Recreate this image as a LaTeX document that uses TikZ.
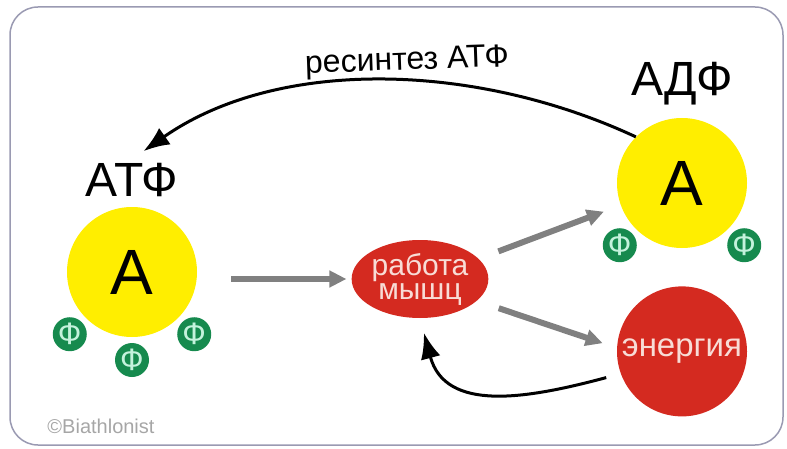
\documentclass[tikz,border=0pt]{standalone}
\usepackage{fontspec}
\setmainfont{Liberation Sans}
\usetikzlibrary{arrows.meta,positioning,shapes.geometric}

\definecolor{molyellow}{HTML}{FFEE00}
\definecolor{workred}{HTML}{D42A20}
\definecolor{worktext}{HTML}{F8DCD6}
\definecolor{phgreen}{HTML}{168A4E}
\definecolor{phmint}{HTML}{C4F2DC}
\definecolor{framegray}{HTML}{9A9AB2}
\definecolor{arrowgray}{HTML}{808080}

\begin{document}
\begin{tikzpicture}[
  x=1pt,y=1pt,
  mol/.style={circle,fill=molyellow,minimum size=130pt,inner sep=0pt,font=\fontsize{64}{64}\selectfont},
  redblob/.style={fill=workred,text=worktext,inner sep=0pt,align=center},
  phos/.style={circle,fill=phgreen,text=phmint,minimum size=34pt,inner sep=0pt,font=\fontsize{31}{31}\selectfont},
  biglabel/.style={font=\fontsize{48}{48}\selectfont},
  flow/.style={-{Triangle[length=17pt,width=16pt]},line width=6pt,arrowgray},
  cycle/.style={-{Latex[length=26pt,width=20pt]},line width=3pt,black}
]
\useasboundingbox (0,0) rectangle (787,448);
\draw[framegray,line width=1.5pt,rounded corners=28pt] (10,3) rectangle (783,441);

% molecules
\node[mol] (atp) at (132,176) {A};
\node[biglabel,above=7pt of atp] (atplabel) {АТФ};
\node[mol] (adp) at (682,265) {A};
\node[biglabel,above=9pt of adp] (adplabel) {АДФ};
\foreach \ang/\nm in {225/1,270/2,315/3}
  \path (atp) ++(\ang:88) node[phos] (atpP\nm) {Ф};
\foreach \ang/\nm in {225/1,315/2}
  \path (adp) ++(\ang:88) node[phos] (adpP\nm) {Ф};

% work and energy
\node[redblob,ellipse,minimum width=126pt,minimum height=78pt,font=\fontsize{30}{24}\selectfont] (work) at (420,169) {работа\\мышц};
\node[redblob,circle,minimum size=130pt,below=38pt of adp,font=\fontsize{33}{33}\selectfont] (energy) {энергия};

\node[font=\fontsize{32}{32}\selectfont,rotate=2] (resynth) at (407,386) {ресинтез АТФ};
\node[font=\fontsize{20}{20}\selectfont,text=gray!70] (credit) at (101,22) {©Biathlonist};

% arrows
\draw[flow,shorten <=34pt,shorten >=5pt] (atp.east |- work) -- (work.west);
\draw[flow,shorten <=21pt,shorten >=18pt] (work.19) -- (adp.200);
\draw[flow,shorten <=23pt,shorten >=15pt] (work.-21) -- (energy.177);
\draw[cycle,shorten >=14pt] (adp.135) to[out=155,in=35,looseness=0.9] (atplabel.north);
\draw[cycle,shorten <=15pt,shorten >=15pt] (energy.200) to[out=195,in=-75,looseness=1.2] (work.south);
\end{tikzpicture}
\end{document}
